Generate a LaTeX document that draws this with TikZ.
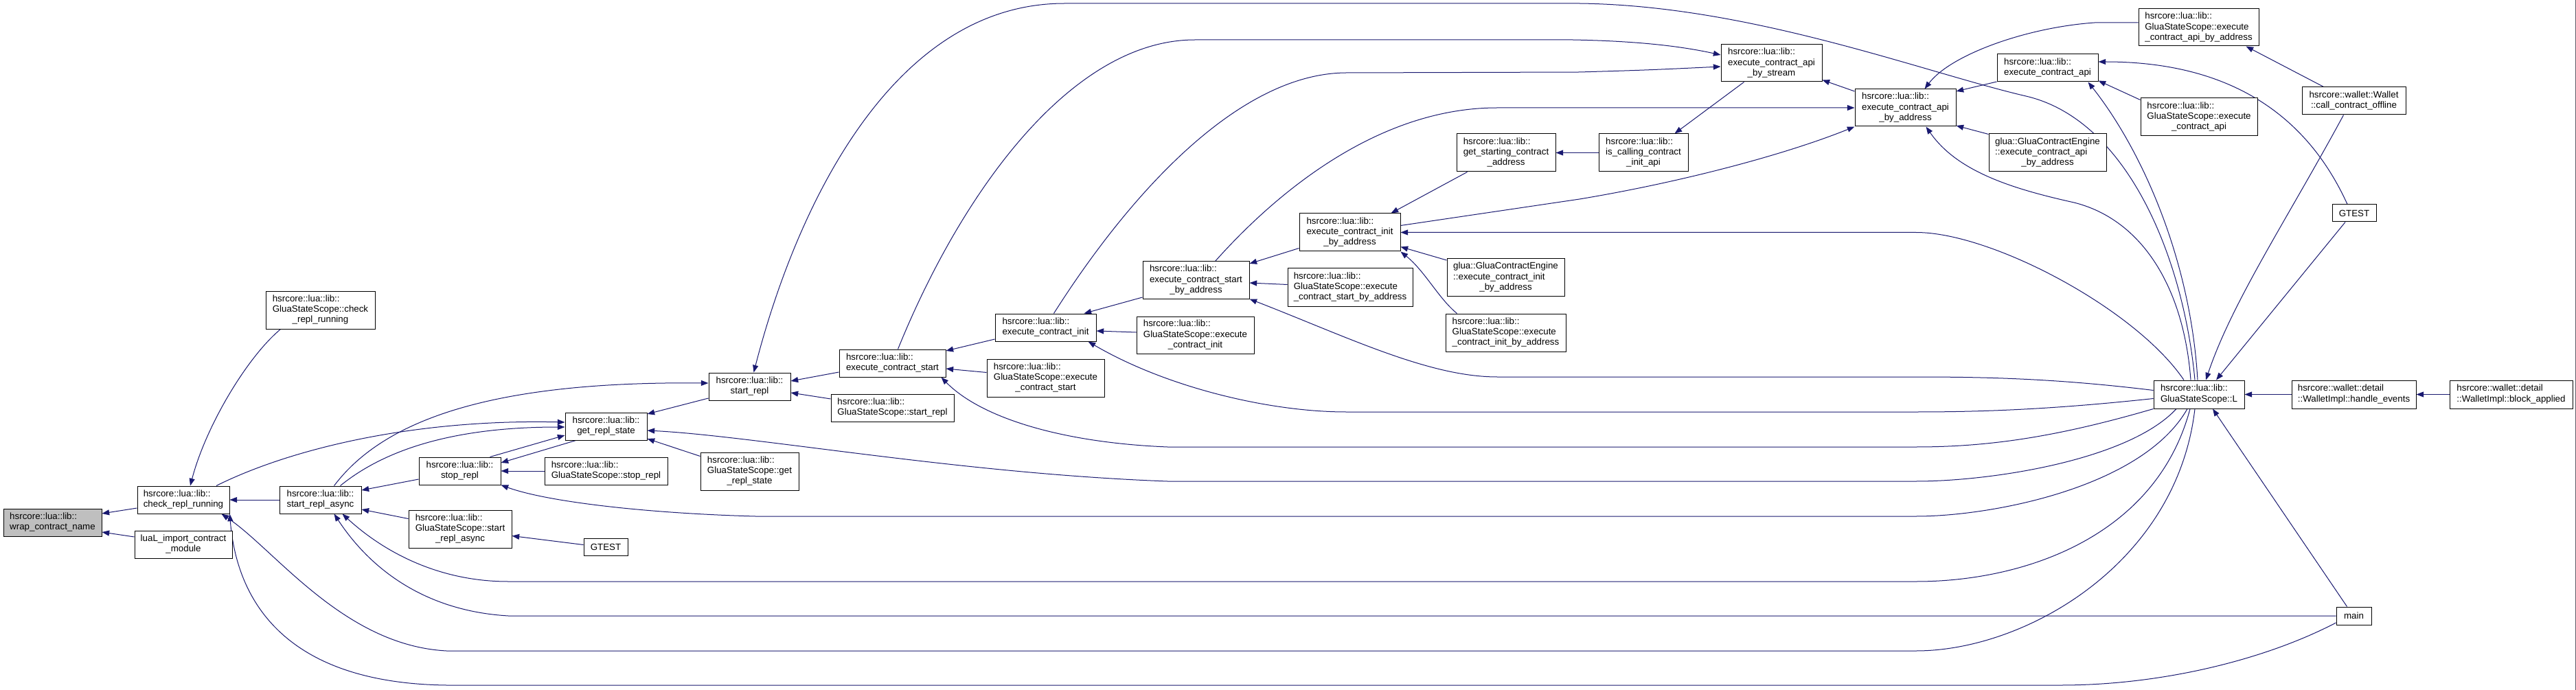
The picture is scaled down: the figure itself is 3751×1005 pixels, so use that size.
\documentclass[tikz,border=0pt]{standalone}
\usepackage{fontspec}
\setmainfont{Liberation Sans}
\usetikzlibrary{arrows.meta,backgrounds}
\definecolor{edgec}{HTML}{191970}
\definecolor{rootfill}{HTML}{BFBFBF}
\definecolor{edgeline}{HTML}{5E5A66}
\newcommand\DGtwo[2]{\begin{tabular}{@{}l@{}}#1\\\multicolumn{1}{@{}c@{}}{#2}\end{tabular}}
\newcommand\DGthree[3]{\begin{tabular}{@{}l@{}}#1\\#2\\\multicolumn{1}{@{}c@{}}{#3}\end{tabular}}
\newcommand\DGnode[7][]{\node[fn,#1,minimum width={(#5-#3)*0.75pt},minimum height={(#6-#4)*0.75pt}] (#2) at ({(#3+#5)/2},{(#4+#6)/2}) {#7};}
\tikzset{
  fn/.style={draw=black, fill=white, line width=0.75pt, inner sep=0pt, font=\fontsize{10pt}{11.5pt}\selectfont, text=black},
  cg/.style={draw=edgec, line width=0.75pt, -{Triangle[length=8pt,width=6pt]}}
}
\begin{document}
\begin{tikzpicture}[x=0.75pt,y=-0.75pt]
\useasboundingbox (0,0) rectangle (3751,1005);
% nodes
\DGnode[fill=rootfill]{wrap}{5}{741}{148}{781}{\DGtwo{hsrcore::lua::lib::}{wrap\_contract\_name}}
\DGnode{crr}{200}{708}{334}{748}{\DGtwo{hsrcore::lua::lib::}{check\_repl\_running}}
\DGnode{luaL}{196}{773}{338}{813}{\DGtwo{luaL\_import\_contract}{\_module}}
\DGnode{gsscrr}{387}{424}{546}{479}{\DGthree{hsrcore::lua::lib::}{GluaStateScope::check}{\_repl\_running}}
\DGnode{sra}{407}{708}{526}{748}{\DGtwo{hsrcore::lua::lib::}{start\_repl\_async}}
\DGnode{stop}{610}{666}{729}{706}{\DGtwo{hsrcore::lua::lib::}{stop\_repl}}
\DGnode{gsssra}{595}{743}{745}{798}{\DGthree{hsrcore::lua::lib::}{GluaStateScope::start}{\_repl\_async}}
\DGnode{grs}{823}{601}{942}{641}{\DGtwo{hsrcore::lua::lib::}{get\_repl\_state}}
\DGnode{gssstop}{793}{666}{972}{706}{\DGtwo{hsrcore::lua::lib::}{GluaStateScope::stop\_repl}}
\DGnode{gtesta}{850}{784}{914}{809}{GTEST}
\DGnode{srepl}{1032}{543}{1151}{583}{\DGtwo{hsrcore::lua::lib::}{start\_repl}}
\DGnode{gssgrs}{1020}{659}{1163}{714}{\DGthree{hsrcore::lua::lib::}{GluaStateScope::get}{\_repl\_state}}
\DGnode{xstart}{1222}{509}{1377}{549}{\DGtwo{hsrcore::lua::lib::}{execute\_contract\_start}}
\DGnode{gsssrepl}{1210}{574}{1389}{614}{\DGtwo{hsrcore::lua::lib::}{GluaStateScope::start\_repl}}
\DGnode{xinit}{1449}{457}{1596}{497}{\DGtwo{hsrcore::lua::lib::}{execute\_contract\_init}}
\DGnode{gssxstart}{1437}{523}{1608}{578}{\DGthree{hsrcore::lua::lib::}{GluaStateScope::execute}{\_contract\_start}}
\DGnode{sba}{1664}{381}{1819}{435}{\DGthree{hsrcore::lua::lib::}{execute\_contract\_start}{\_by\_address}}
\DGnode{gssxinit}{1655}{461}{1826}{515}{\DGthree{hsrcore::lua::lib::}{GluaStateScope::execute}{\_contract\_init}}
\DGnode{iba}{1892}{311}{2039}{366}{\DGthree{hsrcore::lua::lib::}{execute\_contract\_init}{\_by\_address}}
\DGnode{gsssba}{1875}{391}{2057}{446}{\DGthree{hsrcore::lua::lib::}{GluaStateScope::execute}{\_contract\_start\_by\_address}}
\DGnode{gsc}{2121}{195}{2265}{250}{\DGthree{hsrcore::lua::lib::}{get\_starting\_contract}{\_address}}
\DGnode{glinit}{2107}{377}{2278}{431}{\DGthree{glua::GluaContractEngine}{::execute\_contract\_init}{\_by\_address}}
\DGnode{gssiba}{2105}{457}{2280}{512}{\DGthree{hsrcore::lua::lib::}{GluaStateScope::execute}{\_contract\_init\_by\_address}}
\DGnode{isc}{2328}{195}{2458}{250}{\DGthree{hsrcore::lua::lib::}{is\_calling\_contract}{\_init\_api}}
\DGnode{bys}{2506}{65}{2653}{119}{\DGthree{hsrcore::lua::lib::}{execute\_contract\_api}{\_by\_stream}}
\DGnode{aba}{2701}{130}{2848}{184}{\DGthree{hsrcore::lua::lib::}{execute\_contract\_api}{\_by\_address}}
\DGnode{xapi}{2908}{79}{3055}{119}{\DGtwo{hsrcore::lua::lib::}{execute\_contract\_api}}
\DGnode{glapi}{2896}{195}{3067}{250}{\DGthree{glua::GluaContractEngine}{::execute\_contract\_api}{\_by\_address}}
\DGnode{gssaba}{3114}{13}{3289}{67}{\DGthree{hsrcore::lua::lib::}{GluaStateScope::execute}{\_contract\_api\_by\_address}}
\DGnode{gssxapi}{3117}{143}{3287}{198}{\DGthree{hsrcore::lua::lib::}{GluaStateScope::execute}{\_contract\_api}}
\DGnode{offl}{3352}{127}{3503}{167}{\DGtwo{hsrcore::wallet::Wallet}{::call\_contract\_offline}}
\DGnode{gtestb}{3396}{298}{3460}{323}{GTEST}
\DGnode{L}{3136}{554}{3268}{595}{\DGtwo{hsrcore::lua::lib::}{GluaStateScope::L}}
\DGnode{he}{3337}{554}{3518}{595}{\DGtwo{hsrcore::wallet::detail}{::WalletImpl::handle\_events}}
\DGnode{ba}{3567}{554}{3746}{595}{\DGtwo{hsrcore::wallet::detail}{::WalletImpl::block\_applied}}
\DGnode{main}{3402}{884}{3453}{910}{main}
% edges
\begin{scope}[on background layer]
\fill[white] (0,0) rectangle (3751,1005);
\draw[edgeline, line width=0.75pt] (3750,0) -- (3750,1005);
\draw[cg] ([shift={(0,12)}]crr.west) -- ([shift={(0,-13)}]wrap.east);
\draw[cg] ([shift={(0,-11)}]luaL.west) -- ([shift={(0,14)}]wrap.east);
\draw[cg] ([shift={(-58,0)}]gsscrr.south) .. controls (360,520) and (300,620) .. ([shift={(10,0)}]crr.north);
\draw[cg] (sra.west) -- (crr.east);
\draw[cg] ([shift={(48,0)}]crr.north) .. controls (420,655) and (600,610) .. ([shift={(0,-6)}]grs.west);
\draw[cg] ([shift={(20,0)}]sra.north) .. controls (560,610) and (720,555) .. ([shift={(0,-5)}]srepl.west);
\draw[cg] ([shift={(29,0)}]sra.north) .. controls (560,655) and (660,622) .. ([shift={(0,1)}]grs.west);
\draw[cg] ([shift={(44,0)}]stop.north) -- ([shift={(0,13)}]grs.west);
\draw[cg] ([shift={(-44,0)}]grs.south) -- ([shift={(0,-12)}]stop.east);
\draw[cg] (gssstop.west) -- (stop.east);
\draw[cg] ([shift={(0,12)}]stop.west) -- ([shift={(0,-14)}]sra.east);
\draw[cg] ([shift={(0,-15)}]gsssra.west) -- ([shift={(0,14)}]sra.east);
\draw[cg] ([shift={(0,-3)}]gtesta.west) -- ([shift={(0,10)}]gsssra.east);
\draw[cg] ([shift={(0,17)}]srepl.west) -- ([shift={(0,-18)}]grs.east);
\draw[cg] ([shift={(0,-22)}]gssgrs.west) -- ([shift={(0,18)}]grs.east);
\draw[cg] ([shift={(0,13)}]xstart.west) -- ([shift={(0,-8)}]srepl.east);
\draw[cg] ([shift={(0,-13)}]gsssrepl.west) -- ([shift={(0,9)}]srepl.east);
\draw[cg] ([shift={(0,17)}]xinit.west) -- ([shift={(0,-18)}]xstart.east);
\draw[cg] ([shift={(0,-8)}]gssxstart.west) -- ([shift={(0,8)}]xstart.east);
\draw[cg] ([shift={(0,25)}]sba.west) -- ([shift={(-18,0)}]xinit.north east);
\draw[cg] ([shift={(0,-4)}]gssxinit.west) -- ([shift={(0,5)}]xinit.east);
\draw[cg] ([shift={(0,23)}]iba.west) -- ([shift={(0,-24)}]sba.east);
\draw[cg] ([shift={(0,-4)}]gsssba.west) -- ([shift={(0,4)}]sba.east);
\draw[cg] ([shift={(16,0)}]gsc.south west) -- ([shift={(-14,0)}]iba.north east);
\draw[cg] ([shift={(0,-25)}]glinit.west) -- ([shift={(0,21)}]iba.east);
\draw[cg] ([shift={(17,0)}]gssiba.north west) .. controls (2095,435) and (2075,395) .. (iba.south east);
\draw[cg] (isc.west) -- (gsc.east);
\draw[cg] ([shift={(-40,0)}]bys.south) -- ([shift={(-20,0)}]isc.north east);
\draw[cg] ([shift={(0,-24)}]aba.west) -- ([shift={(0,-3)}]bys.south east);
\draw[cg] ([shift={(8,0)}]xstart.north) .. controls (1400,280) and (1560,58) .. (1740,58) -- (2290,58) .. controls (2400,60) and (2460,70) .. ([shift={(0,-12)}]bys.west);
\draw[cg] ([shift={(12,0)}]xinit.north) .. controls (1640,290) and (1800,107) .. (1960,106) -- (2300,105) .. controls (2400,102) .. ([shift={(0,5)}]bys.west);
\draw[cg] ([shift={(28,0)}]sba.north) .. controls (1850,290) and (2000,157) .. (2180,157) -- (aba.west);
\draw[cg] ([shift={(0,-10)}]iba.east) -- (2300,290) .. controls (2450,265) and (2600,225) .. (aba.south west);
\draw[cg] ([shift={(-22,0)}]L.north) .. controls (3110,450) and (2900,338.5) .. (2790,338.5) -- (iba.east);
\draw[cg] ([shift={(-12,0)}]L.north) .. controls (3180,420) and (3120,320) .. (3020,295) .. controls (2930,275) and (2850,250) .. ([shift={(30,0)}]aba.south);
\draw[cg] ([shift={(-6,0)}]L.north) .. controls (3180,380) and (3100,175) .. (2950,140) .. controls (2800,105) and (2550,8) .. (2300,5) -- (1550,5) .. controls (1300,5) and (1160,300) .. ([shift={(6,0)}]srepl.north);
\draw[cg] ([shift={(-2,0)}]L.north) .. controls (3190,380) and (3120,220) .. ([shift={(-15,0)}]xapi.south east);
\draw[cg] ([shift={(0,-25)}]gssxapi.west) -- ([shift={(0,-2)}]xapi.south east);
\draw[cg] ([shift={(-10,0)}]gtestb.north) .. controls (3360,170) and (3250,90) .. ([shift={(0,-9)}]xapi.east);
\draw[cg] ([shift={(0,20)}]xapi.west) -- ([shift={(0,-24)}]aba.east);
\draw[cg] ([shift={(0,-27)}]glapi.west) -- ([shift={(0,26)}]aba.east);
\draw[cg] ([shift={(0,-7)}]gssaba.west) -- (3050,33) .. controls (2950,40) and (2840,80) .. ([shift={(28,0)}]aba.north);
\draw[cg] ([shift={(-44,0)}]offl.north) -- ([shift={(-19,0)}]gssaba.south east);
\draw[cg] ([shift={(-15,0)}]offl.south) .. controls (3330,320) and (3250,440) .. ([shift={(10,0)}]L.north);
\draw[cg] ([shift={(-13,0)}]gtestb.south) -- ([shift={(25,0)}]L.north);
\draw[cg] (he.west) -- (L.east);
\draw[cg] (ba.west) -- (he.east);
\draw[cg] ([shift={(-10,0)}]main.north) -- ([shift={(20,0)}]L.south);
\draw[cg] ([shift={(0,-6)}]L.west) .. controls (3000,552) and (2900,549) .. (2790,549) -- (2180,549) .. controls (2080,549) and (1960,490) .. (sba.south east);
\draw[cg] ([shift={(0,6)}]L.west) .. controls (3000,595) and (2900,600) .. (2790,600) -- (1960,600) .. controls (1850,600) and (1700,565) .. ([shift={(-12,0)}]xinit.south east);
\draw[cg] (L.south west) .. controls (3000,635) and (2900,651) .. (2790,651) -- (1700,651) .. controls (1550,645) and (1430,610) .. ([shift={(-7,0)}]xstart.south east);
\draw[cg] ([shift={(-33,0)}]L.south) .. controls (3100,670) and (2900,701) .. (2790,701) -- (1700,701) .. controls (1400,690) and (1100,635) .. ([shift={(0,6)}]grs.east);
\draw[cg] ([shift={(-17,0)}]L.south) .. controls (3120,710) and (2900,752) .. (2790,752) -- (1100,752) .. controls (950,748) and (800,732) .. (stop.south east);
\draw[cg] ([shift={(-13,0)}]L.south) .. controls (3140,780) and (2950,847) .. (2790,847) -- (740,847) .. controls (640,847) and (560,805) .. ([shift={(32,0)}]sra.south);
\draw[cg] (main.west) -- (740,897) .. controls (620,890) and (540,830) .. ([shift={(20,0)}]sra.south);
\draw[cg] ([shift={(-6,0)}]L.south) .. controls (3170,820) and (2950,948) .. (2790,948) -- (650,948) .. controls (500,940) and (400,800) .. ([shift={(-12,0)}]crr.south east);
\draw[cg] ([shift={(0,10)}]main.west) .. controls (3300,960) and (3150,998) .. (3000,998) -- (650,998) .. controls (420,995) and (345,880) .. (crr.south east);
\end{scope}
\end{tikzpicture}
\end{document}
